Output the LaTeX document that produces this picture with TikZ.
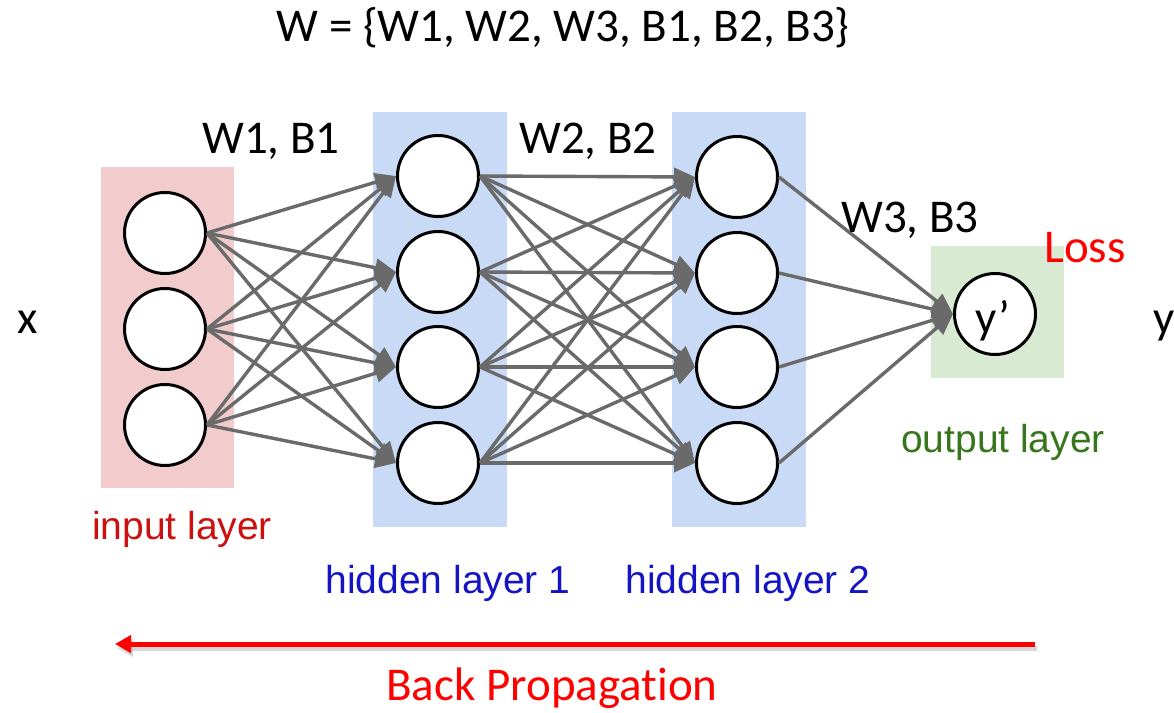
\documentclass[tikz,border=0pt]{standalone}
\usepackage{fontspec}
\setmainfont{Carlito}[Ligatures={NoCommon,NoContextual}]
\newfontfamily\arialf{Liberation Sans}
\usetikzlibrary{arrows.meta}
\definecolor{pinkbox}{RGB}{242,204,204}
\definecolor{bluebox}{RGB}{201,218,246}
\definecolor{greenbox}{RGB}{217,234,211}
\definecolor{edgegray}{RGB}{106,106,106}
\definecolor{inred}{RGB}{204,16,16}
\definecolor{hidblue}{RGB}{20,20,196}
\definecolor{outgreen}{RGB}{56,118,29}
\begin{document}
\begin{tikzpicture}[x=1pt,y=-1pt,
  neuron/.style={circle, draw=black, fill=white, line width=3pt, minimum size=81pt, inner sep=0pt},
  conn/.style={draw=edgegray, line width=3.4pt, -{Triangle[length=21pt,width=18pt]}},
  cal/.style={font=\fontsize{47}{52}\selectfont, inner sep=0pt, anchor=base},
  ari/.style={font=\arialf\fontsize{39}{44}\selectfont, inner sep=0pt, anchor=base},
  bparrow/.style={line width=5pt, -{Triangle[length=16pt,width=17pt]}}]
\useasboundingbox (0,0) rectangle (1174,712);
% layer backgrounds
\fill[pinkbox] (101,167) rectangle (234,488);
\fill[bluebox] (373,112) rectangle (507,527);
\fill[bluebox] (672,112) rectangle (806,527);
\fill[greenbox] (931,246) rectangle (1064,378);
% neurons
\foreach \i/\y in {1/233,2/329,3/425} \node[neuron] (i\i) at (165,\y) {};
\foreach \i/\y in {1/176,2/272,3/367,4/463} \node[neuron] (a\i) at (438,\y) {};
\foreach \i/\y in {1/177,2/273,3/367,4/463} \node[neuron] (b\i) at (737,\y) {};
\node[neuron] (o) at (995,314) {};
\node[cal] (yp) at (993,333) {y’};
% connections
\foreach \s in {1,2,3} \foreach \t in {1,2,3,4} \draw[conn] (i\s.east) -- (a\t.west);
\foreach \s in {1,2,3,4} \foreach \t in {1,2,3,4} \draw[conn] (a\s.east) -- (b\t.west);
\foreach \s in {1,2,3,4} \draw[conn] (b\s.east) -- (o.west);
% texts
\node[cal] (title) at (563,41) {W = \{W1, W2, W3, B1, B2, B3\}};
\node[cal] (w1) at (271,153) {W1, B1};
\node[cal] (w2) at (588,153) {W2, B2};
\node[cal] (w3) at (910,232) {W3, B3};
\node[cal, text=red] (loss) at (1085,262) {Loss};
\node[cal] (xin) at (28,333) {x};
\node[cal, anchor=base west] (yout) at (1153,333) {y};
\node[ari, text=inred] (inlab) at (182,539) {input layer};
\node[ari, text=hidblue] (h1lab) at (448,593) {hidden layer 1};
\node[ari, text=hidblue] (h2lab) at (748,593) {hidden layer 2};
\node[ari, text=outgreen] (outlab) at (1003,452) {output layer};
% back propagation arrow
\coordinate (bps) at (1035,644);
\coordinate (bpe) at (115,644);
\draw[bparrow, draw=gray, fill=gray, opacity=.3] ([shift={(2,4)}]bps) -- ([shift={(2,4)}]bpe);
\draw[bparrow, draw=red, fill=red] (bps) -- (bpe);
\node[cal, text=red] (bp) at (552,700) {Back Propagat{\kern0pt}ion};
\end{tikzpicture}
\end{document}
